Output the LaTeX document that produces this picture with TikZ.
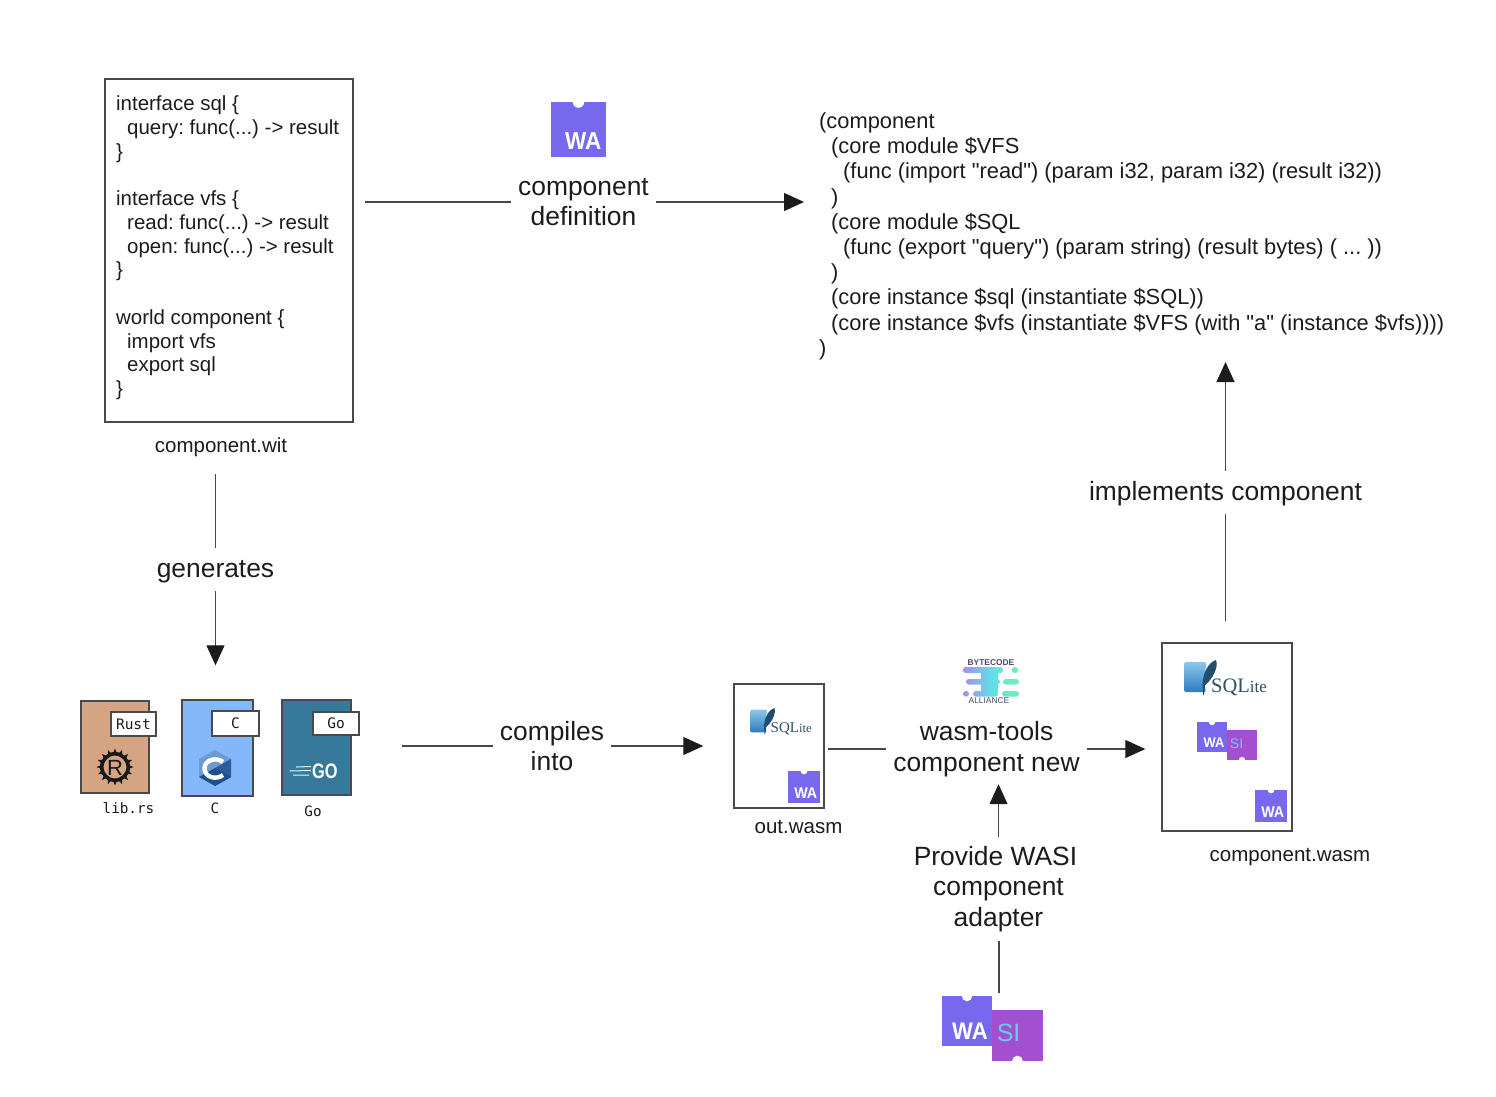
\documentclass[tikz,border=0pt]{standalone}
\usepackage{fontspec}
\setmainfont{Liberation Sans}
\newfontfamily\codef{Liberation Sans}
\newfontfamily\monof{DejaVu Sans Mono}
\newfontfamily\serf{Liberation Serif}
\usetikzlibrary{arrows.meta,shapes.geometric}
\definecolor{wacol}{HTML}{7768EE}
\definecolor{sicol}{HTML}{A44FD0}
\definecolor{sitext}{HTML}{62CDF0}
\definecolor{linecol}{HTML}{484848}
\definecolor{boxcol}{HTML}{4A4A4A}
\definecolor{textcol}{HTML}{1C1C1C}
\definecolor{bcpurple}{HTML}{A98CEB}
\definecolor{bccyan}{HTML}{62DDE8}
\definecolor{bcgreen}{HTML}{72F0B4}
\definecolor{bctext}{HTML}{4A4A6E}
\definecolor{sqtext}{HTML}{2F5064}
\definecolor{sqfeather}{HTML}{1F4E6E}
\definecolor{sqtop}{HTML}{8CC8EC}
\definecolor{sqbot}{HTML}{2C7CC0}
\definecolor{clight}{HTML}{6E9AD0}
\definecolor{cmid}{HTML}{2B5C9E}
\definecolor{cdark}{HTML}{214E8C}
\tikzset{
  conn/.style={draw=linecol,line width=1.1pt},
  arrowed/.style={conn,-{Triangle[width=18pt,length=20pt,color=textcol]}},
  lab/.style={align=center,inner sep=0pt,text=textcol,font=\fontsize{26.4}{30.5}\selectfont},
  small/.style={inner sep=0pt,text=textcol,font=\fontsize{20.5}{24}\selectfont},
  mono/.style={inner sep=0pt,text=textcol,font=\monof\fontsize{14.3}{17}\selectfont},
  frame/.style={draw=boxcol,line width=1.4pt,fill=white,inner sep=0pt},
  doc/.style={draw=boxcol,line width=1.4pt,inner sep=0pt},
  tagbox/.style={draw=boxcol,line width=1.2pt,fill=white,inner sep=0pt,font=\monof\fontsize{14.5}{17}\selectfont,text=textcol},
}
% name, left, top, size, font size
\newcommand{\waicon}[5]{%
  \fill[wacol] (#2,#3) rectangle ++(#4,#4);
  \fill[white] ({#2+#4/2},#3) circle[radius=#4*0.105pt];
  \node[anchor=south east,inner sep=0pt,text=white,font=\bfseries\fontsize{#5}{#5}\selectfont] (#1) at ({#2+#4*0.92},{#3+#4*0.87}) {\scalebox{.92}[1]{WA}};
}
\newcommand{\siicon}[5]{%
  \fill[sicol] (#2,#3) rectangle ++(#4,#4);
  \fill[white] ({#2+#4/2},{#3+#4}) circle[radius=#4*0.105pt];
  \node[anchor=west,inner sep=0pt,text=sitext,font=\fontsize{#5}{#5}\selectfont] (#1) at ({#2+#4*0.09},{#3+#4*0.45}) {SI};
}
% name, left, top, scale, font size, smaller font size
\newcommand{\sqlogo}[6]{%
  \begin{scope}[shift={(#2,#3)},scale=#4]
    \shade[top color=sqtop,bottom color=sqbot,rounded corners=1.5pt] (0,2) -- (23,2) .. controls (20,14) and (20,24) .. (22,32) -- (0,32) -- cycle;
    \fill[sqfeather] (32,0) .. controls (35,7) and (28,20) .. (21,25) -- (20,35) -- (19.2,35) -- (18.5,24) .. controls (19,12) and (25,2) .. (32,0) -- cycle;
  \end{scope}
  \node[anchor=base west,inner sep=0pt,text=sqtext,font=\serf\fontsize{#5}{#5}\selectfont] (#1) at ({#2+#4*27},{#3+#4*32}) {SQL{\fontsize{#6}{#5}\selectfont ite}};
}
\begin{document}
\frenchspacing
\begin{tikzpicture}[x=1pt,y=-1pt]
\useasboundingbox (0,0) rectangle (1496,1096);
\fill[white] (0,0) rectangle (1496,1096);

% component.wit
\node[frame,minimum width=248pt,minimum height=343pt] (witbox) at (229,250.5) {};
\node[anchor=north west,align=left,inner sep=0pt,text=textcol,font=\codef\fontsize{20.45}{23.75}\selectfont] (wittext) at (116,95.5) {interface sql \{\\
\hspace*{11pt}query: func(...) -> result\\
\}\\
\mbox{}\\
interface vfs \{\\
\hspace*{11pt}read: func(...) -> result\\
\hspace*{11pt}open: func(...) -> result\\
\}\\
\mbox{}\\
world component \{\\
\hspace*{11pt}import vfs\\
\hspace*{11pt}export sql\\
\}};
\node[small] (witlabel) at (221,447) {component.wit};

% WA icon + definition
\waicon{watop}{551}{102}{55}{24.5}
\node[lab,minimum width=145pt] (defn) at (583.5,202) {component\\definition};

% core wat code
\node[anchor=north west,align=left,inner sep=0pt,text=textcol,font=\codef\fontsize{21.85}{25.2}\selectfont] (code) at (819,112.5) {(component\\
\hspace*{12pt}(core module \$VFS\\
\hspace*{24pt}(func (import "read") (param i32, param i32) (result i32))\\
\hspace*{12pt})\\
\hspace*{12pt}(core module \$SQL\\
\hspace*{24pt}(func (export "query") (param string) (result bytes) ( ... ))\\
\hspace*{12pt})\\
\hspace*{12pt}(core instance \$sql (instantiate \$SQL))\\
\hspace*{12pt}(core instance \$vfs (instantiate \$VFS (with "a" (instance \$vfs))))\\
)};

% source documents
\node[doc,fill={rgb,255:red,212;green,164;blue,131},minimum width=68pt,minimum height=92pt] (rustdoc) at (115,747) {};
\node[tagbox,minimum width=45pt,minimum height=24pt] (rusttag) at (133.5,724) {Rust};
\node[doc,fill={rgb,255:red,133;green,184;blue,251},minimum width=71pt,minimum height=96pt] (cdoc) at (217.5,748) {};
\node[tagbox,minimum width=47pt,minimum height=25pt] (ctag) at (235.5,723.5) {C};
\node[doc,fill={rgb,255:red,55;green,121;blue,154},minimum width=69pt,minimum height=95pt] (godoc) at (316.5,747.5) {};
\node[tagbox,minimum width=46pt,minimum height=23pt] (gotag) at (336,723.5) {Go};
\node[mono] (rustlabel) at (128.5,808) {lib.rs};
\node[mono] (clabel) at (215,808.5) {C};
\node[mono] (golabel) at (313,811) {Go};

% Rust logo
\foreach \a in {0,22.5,...,337.5}
  \fill[black!90] ({115+13*cos(\a-10)},{767+13*sin(\a-10)}) -- ({115+18.5*cos(\a)},{767+18.5*sin(\a)}) -- ({115+13*cos(\a+10)},{767+13*sin(\a+10)}) -- cycle;
\draw[black!90,line width=3.6pt] (115,767) circle[radius=13.2pt];
\node[inner sep=0pt,text=black!90,font=\fontsize{22}{22}\selectfont] (rustr) at (115,767.5) {R};

% C logo
\fill[clight] (215,750) -- (231,759) -- (215,768) -- (199,777) -- (199,759) -- cycle;
\fill[cmid] (231,759) -- (231,777) -- (215,786) -- (215,768) -- cycle;
\fill[cdark] (199,777) -- (215,768) -- (231,777) -- (215,786) -- cycle;
\draw[white,line width=4.4pt] (223,762) .. controls (216,756.5) and (204.5,760) .. (204.5,768.5) .. controls (204.5,777) and (216,780.5) .. (223,775);

% Go logo
\node[anchor=west,inner sep=0pt,text=white,font=\bfseries\fontsize{21}{21}\selectfont] (gotext) at (312,771.5) {\scalebox{.78}[1]{GO}};
\draw[white!90!cyan,line width=1pt] (296,767) -- (311,766.5) (289.5,771) -- (311,770.5) (293,775) -- (309,775);

% compiles
\node[lab,minimum width=118pt] (compiles) at (552,746) {compiles\\into};

% out.wasm
\node[frame,minimum width=90pt,minimum height=124pt] (outbox) at (779,746) {};
\sqlogo{outsql}{750}{708}{0.76}{15}{12.6}
\waicon{outwa}{788}{771}{32}{15.5}
\node[small] (outlabel) at (798.5,827) {out.wasm};

% Bytecode alliance
\node[inner sep=0pt,text=bctext,font=\bfseries\fontsize{8.4}{9}\selectfont] (bctop) at (991,663) {BYTECODE};
\node[inner sep=0pt,text=bctext,font=\fontsize{8.4}{9}\selectfont] (bcbot) at (989,701) {ALLIANCE};
\begin{scope}
  \clip[rounded corners=2.7pt]
    (963,667) rectangle (1003,673)
    (966,679) rectangle (1000,684.5)
    (1003,679) rectangle (1019,684.5)
    (973,691) rectangle (998,696.5)
    (1002,691) rectangle (1019,696.5)
    (981,670) rectangle (998,694)
    (1012,667) rectangle (1018,673)
    (963,691) rectangle (969,696.5);
  \shade[left color=bcpurple,right color=bcgreen,middle color=bccyan] (963,665) rectangle (1019,698);
\end{scope}

% wasm-tools
\node[lab,minimum width=201pt,minimum height=70pt] (tools) at (986.5,749) {wasm-tools\\component new};
\node[lab,minimum width=170pt,minimum height=104pt] (provide) at (998.5,889) {Provide WASI\hspace*{6pt}\\component\\adapter};

% WASI icon
\waicon{wabot}{942}{996}{50}{24}
\siicon{sibot}{992}{1010}{51}{25}
\coordinate (wasitop) at (999,993);

% component.wasm
\node[frame,minimum width=130pt,minimum height=188pt] (compbox) at (1227,737) {};
\sqlogo{compsql}{1184}{660}{1}{20.5}{17}
\waicon{compwa}{1197}{722}{30}{14}
\siicon{compsi}{1227}{730}{30}{14}
\waicon{compwa2}{1255}{790}{32}{15.5}
\node[small] (complabel) at (1290,857) {component.wasm};

% implements
\node[lab,minimum width=280pt,minimum height=45pt] (impl) at (1225.5,493.5) {implements component};
% generates
\node[lab,minimum height=47pt] (gen) at (215.5,571.5) {generates};

% connectors
\draw[conn,shorten <=11pt] (witbox.east |- defn.west) -- (defn.west);
\draw[arrowed,shorten >=15pt] (defn.east) -- (code.west |- defn.east);
\draw[conn,shorten <=17pt] (gen.north |- witlabel.south) -- (gen.north);
\draw[arrowed,shorten >=34pt,shorten <=-4pt] (gen.south) -- (gen.south |- cdoc.north);
\draw[conn,shorten <=42pt] (gotag.east |- compiles.west) -- (compiles.west);
\draw[arrowed,shorten >=30pt] (compiles.east) -- (outbox.west |- compiles.east);
\draw[conn,shorten <=3pt] (outbox.east |- tools.west) -- (tools.west);
\draw[arrowed,shorten >=16pt] (tools.east) -- (compbox.west |- tools.east);
\draw[arrowed] (provide.north) -- (provide.north |- tools.south);
\draw[conn] (wasitop) -- (wasitop |- provide.south);
\draw[conn,shorten <=21pt,shorten >=-2pt] (impl.south |- compbox.north) -- (impl.south);
\draw[arrowed,shorten >=2pt] (impl.north) -- (impl.north |- code.south);
\end{tikzpicture}
\end{document}
